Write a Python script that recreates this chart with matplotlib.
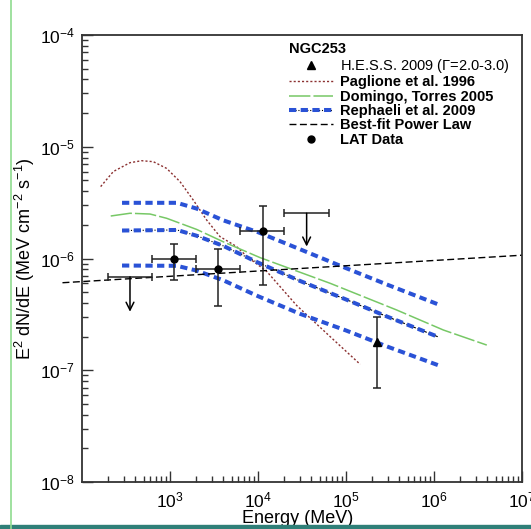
import numpy as np
import matplotlib
matplotlib.use("Agg")
import matplotlib.pyplot as plt
from matplotlib.lines import Line2D
from matplotlib.patches import Rectangle
from matplotlib.legend_handler import HandlerTuple

plt.rcParams['font.family'] = ['Liberation Sans', 'DejaVu Sans']
plt.rcParams['mathtext.default'] = 'regular'

# Paglione et al. 1996
E_pag = np.array([163, 227, 351, 477, 646, 916, 1300, 1840, 2610, 3700, 5700, 7600, 1.25e4, 2.75e4, 6.6e4, 1.45e5])
F_pag = np.array([4.4e-6, 6.0e-6, 7.2e-6, 7.5e-6, 7.35e-6, 6.4e-6, 4.87e-6, 3.33e-6, 2.21e-6, 1.57e-6, 1.28e-6, 1.03e-6, 7.7e-7, 3.8e-7, 2.0e-7, 1.13e-7])

# Domingo, Torres 2005
E_dom = np.array([212, 351, 593, 916, 2010, 4040, 1.05e4, 6.6e4, 3.77e5, 1.28e6, 3.98e6])
F_dom = np.array([2.4e-6, 2.54e-6, 2.5e-6, 2.29e-6, 1.82e-6, 1.41e-6, 1.02e-6, 6.0e-7, 3.46e-7, 2.29e-7, 1.68e-7])

# Rephaeli et al. 2009 (upper, model, lower)
E_rep = np.array([285, 1200, 2000, 4000, 1e4, 3e4, 1e5, 3e5, 1.15e6])
F_rep_hi = np.array([3.15e-6, 3.15e-6, 2.8e-6, 2.2e-6, 1.72e-6, 1.21e-6, 8.2e-7, 5.8e-7, 3.85e-7])
F_rep_mid = np.array([1.78e-6, 1.8e-6, 1.6e-6, 1.3e-6, 9.2e-7, 6.3e-7, 4.3e-7, 3.0e-7, 1.97e-7])
F_rep_lo = np.array([8.65e-7, 8.6e-7, 7.8e-7, 6.4e-7, 4.6e-7, 3.2e-7, 2.27e-7, 1.62e-7, 1.1e-7])

# best-fit power law
E_pl = np.array([60, 1e7])
F_pl = np.array([6.07e-7, 1.07e-6])

# LAT data
E_lat = np.array([1120, 3540, 11300])
E_lat_lo = np.array([625, 2000, 6300])
E_lat_hi = np.array([2000, 6300, 20000])
F_lat = np.array([1.0e-6, 8.0e-7, 1.77e-6])
F_lat_lo = np.array([6.4e-7, 3.76e-7, 5.75e-7])
F_lat_hi = np.array([1.35e-6, 1.21e-6, 2.97e-6])

# LAT upper limits
E_ul = np.array([351, 35700])
E_ul_lo = np.array([195, 20000])
E_ul_hi = np.array([625, 63500])
F_ul = np.array([6.85e-7, 2.54e-6])
F_ul_tip = np.array([3.34e-7, 1.28e-6])

# H.E.S.S. 2009
E_hess = np.array([2.23e5])
F_hess = np.array([1.78e-7])
F_hess_lo = np.array([6.9e-8])
F_hess_hi = np.array([2.98e-7])

fig = plt.figure(figsize=(5.31, 5.29), dpi=100)
ax = fig.add_axes([82/531, 1-482/529, 440/531, 447/529])

blue = '#2a52d6'
l_pag, = ax.plot(E_pag, F_pag, color='#8b3030', lw=1.0, ls=(0, (1.5, 1.5)))
l_dom, = ax.plot(E_dom, F_dom, color='#77c866', lw=1.1, ls=(0, (14, 2)))
ax.plot(E_rep, F_rep_hi, color=blue, lw=2.9, ls=(0, (1.8, 1.1)))
l_repk, = ax.plot(E_rep, F_rep_mid, color='k', lw=0.8, ls='-.')
l_rep, = ax.plot(E_rep, F_rep_mid, color=blue, lw=2.9, ls=(0, (1.8, 1.1)))
ax.plot(E_rep, F_rep_lo, color=blue, lw=2.9, ls=(0, (1.8, 1.1)))
l_pl, = ax.plot(E_pl, F_pl, color='k', lw=1.0, ls=(0, (5, 2.5)), clip_on=False)

ax.errorbar(E_lat, F_lat, xerr=[E_lat - E_lat_lo, E_lat_hi - E_lat],
            yerr=[F_lat - F_lat_lo, F_lat_hi - F_lat],
            fmt='o', ms=5, color='k', ecolor='#222222', elinewidth=1.1, capsize=3, capthick=1.1)
ax.errorbar(E_ul, F_ul, xerr=[E_ul - E_ul_lo, E_ul_hi - E_ul], fmt='none',
            ecolor='#222222', elinewidth=1.1, capsize=3, capthick=1.1)
for e, f0, f1 in zip(E_ul, F_ul, F_ul_tip):
    ax.annotate('', xy=(e, f1), xytext=(e, f0),
                arrowprops=dict(arrowstyle='->', color='k', lw=1.1,
                                shrinkA=0, shrinkB=0, mutation_scale=14))
ax.errorbar(E_hess, F_hess, yerr=[F_hess - F_hess_lo, F_hess_hi - F_hess],
            fmt='^', ms=6, color='k', ecolor='#222222', elinewidth=1.1, capsize=3, capthick=1.1)

ax.set_xscale('log')
ax.set_yscale('log')
ax.set_xlim(1e2, 1e7)
ax.set_ylim(1e-8, 1e-4)
ax.set_xticks([1e3, 1e4, 1e5, 1e6, 1e7])
ax.tick_params(which='both', direction='in', top=False, right=False,
               labelsize=12.5, width=1, color='#333333')
ax.tick_params(which='major', length=8)
ax.tick_params(which='minor', length=4)
ax.tick_params(axis='x', pad=6)
ax.tick_params(axis='y', pad=5)
for s in ax.spines.values():
    s.set_color('#333333')
    s.set_linewidth(1.3)

ax.set_xlabel('Energy (MeV)', fontsize=13)
ax.set_ylabel('E$^2$ dN/dE (MeV cm$^{-2}$ s$^{-1}$)', fontsize=13)
ax.xaxis.set_label_coords(0.489, -0.063)
ax.yaxis.set_label_coords(-0.102, 0.5)

h_hess = Line2D([], [], marker='^', color='k', ls='none', ms=6)
h_lat = Line2D([], [], marker='o', color='k', ls='none', ms=5)
leg = ax.legend([h_hess, l_pag, l_dom, (l_repk, l_rep), l_pl, h_lat],
                ['H.E.S.S. 2009 ($\\Gamma$=2.0-3.0)', 'Paglione et al. 1996',
                 'Domingo, Torres 2005', 'Rephaeli et al. 2009',
                 'Best-fit Power Law', 'LAT Data'],
                handler_map={tuple: HandlerTuple(ndivide=1)},
                title='NGC253', alignment='left',
                loc='upper left', bbox_to_anchor=(282/531, 1-35/529),
                bbox_transform=fig.transFigure, frameon=False,
                prop={'size': 10.5, 'weight': 'bold'},
                title_fontproperties={'size': 10.5, 'weight': 'bold'},
                borderpad=0, labelspacing=0.03, handlelength=3.0,
                handletextpad=0.45)
leg.get_texts()[0].set_fontweight('normal')

# frame decorations of the original image
fig.add_artist(Line2D([11/531, 11/531], [0, 1], color='#8fdc8f', lw=1.2))
fig.add_artist(Rectangle((0, 0), 1, 4/529, color='#2f7f78', transform=fig.transFigure))

fig.savefig('out.png', dpi=100)
